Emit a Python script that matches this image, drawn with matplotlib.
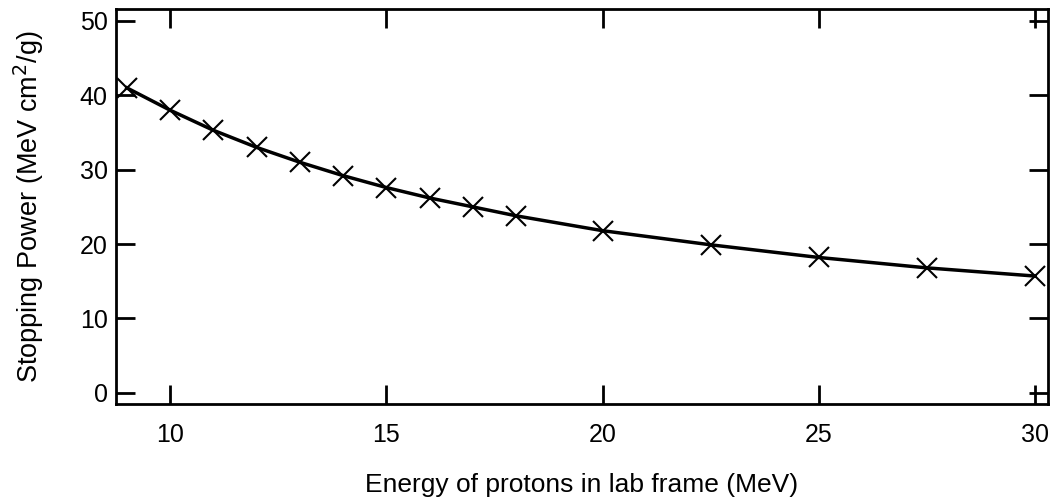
import matplotlib.pyplot as plt

# proton energy (MeV) and stopping power (MeV cm^2/g)
energy = [9, 10, 11, 12, 13, 14, 15, 16, 17, 18, 20, 22.5, 25, 27.5, 30]
stopping_power = [41.0, 38.0, 35.3, 33.0, 31.0, 29.2, 27.6, 26.2, 25.0, 23.8,
                  21.8, 19.9, 18.2, 16.8, 15.7]
x_ticks = [10, 15, 20, 25, 30]
y_ticks = [0, 10, 20, 30, 40, 50]

plt.rcParams['font.family'] = ['Liberation Sans', 'DejaVu Sans']

fig = plt.figure(figsize=(10.55, 5.03), dpi=100)
ax = fig.add_axes([116 / 1055, 1 - 404 / 503, (1048 - 116) / 1055, (404 - 9) / 503])

ax.plot(energy, stopping_power, color='black', lw=2.5, marker='x',
        markersize=15, markeredgewidth=1.5)

ax.set_xlim(8.75, 30.3)
ax.set_ylim(-1.5, 51.6)
ax.set_xticks(x_ticks)
ax.set_yticks(y_ticks)
ax.tick_params(direction='in', length=14, width=2, labelsize=18,
               top=True, right=True)
ax.tick_params(axis='x', pad=14)
ax.tick_params(axis='y', pad=6)
for s in ax.spines.values():
    s.set_linewidth(2)

ax.set_xlabel('Energy of protons in lab frame (MeV)', fontsize=19, va='center')
ax.xaxis.set_label_coords(0.5, -0.205)
ax.set_ylabel('Stopping Power (MeV cm$^2$/g)', fontsize=19.5, va='center')
ax.yaxis.set_label_coords(-0.094, 0.5)

fig.savefig('out.png', dpi=100)
